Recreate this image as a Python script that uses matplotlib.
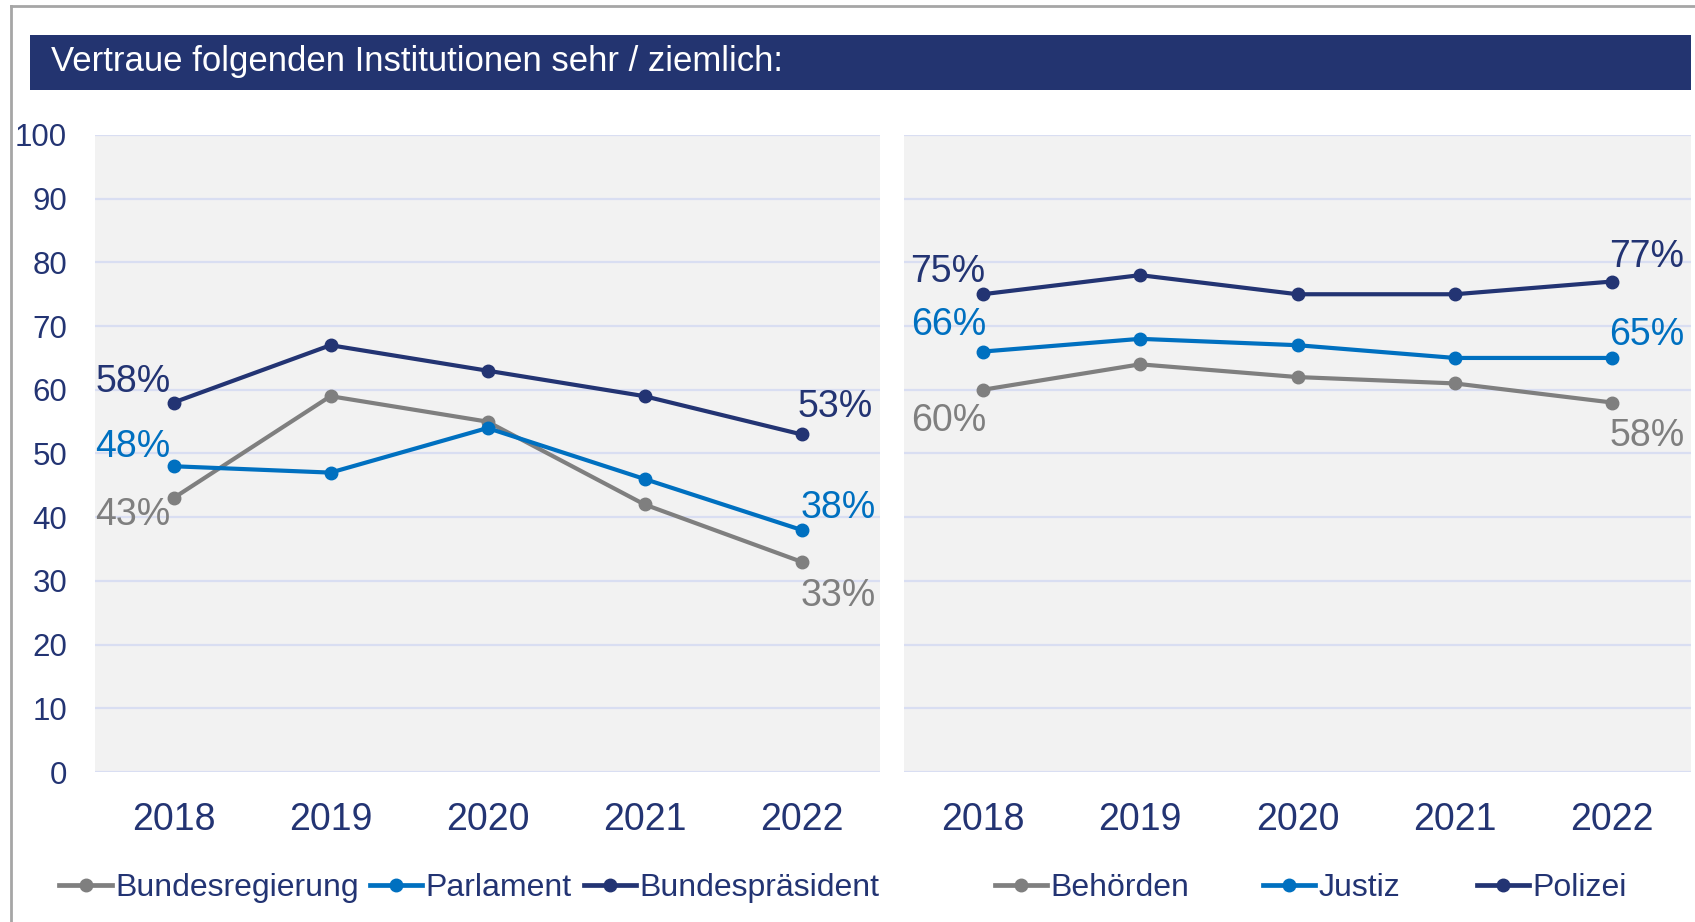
import matplotlib
import matplotlib.pyplot as plt
from matplotlib.lines import Line2D
from matplotlib.patches import Rectangle

matplotlib.set_loglevel('error')

# data
years = ['2018', '2019', '2020', '2021', '2022']

left_names = ['Bundesregierung', 'Parlament', 'Bundespräsident']
bundesregierung = [43, 59, 55, 42, 33]
parlament = [48, 47, 54, 46, 38]
bundespraesident = [58, 67, 63, 59, 53]

right_names = ['Behörden', 'Justiz', 'Polizei']
behoerden = [60, 64, 62, 61, 58]
justiz = [66, 68, 67, 65, 65]
polizei = [75, 78, 75, 75, 77]

yticks = [0, 10, 20, 30, 40, 50, 60, 70, 80, 90, 100]
title = 'Vertraue folgenden Institutionen sehr / ziemlich:'

# style
GRAY = '#7F7F7F'
BLUE = '#0070C0'
NAVY = '#233473'
colors = [GRAY, BLUE, NAVY]
plt.rcParams['font.family'] = ['Liberation Sans', 'DejaVu Sans']

W, H = 1695, 922
fig = plt.figure(figsize=(W / 100, H / 100), dpi=100)
PX = 0.72  # points per pixel at dpi 100

# outer frame (top + left edge)
fig.add_artist(Line2D([11 / W, 11 / W], [0, 1 - 6 / H], color='#A6A6A6', lw=2))
fig.add_artist(Line2D([11 / W, 1], [1 - 6 / H, 1 - 6 / H], color='#A6A6A6', lw=2))

# title bar
fig.add_artist(Rectangle((30 / W, 1 - 90 / H), 1661 / W, 55 / H,
                         transform=fig.transFigure, color='#233470', lw=0))
fig.text(51 / W, 1 - 62 / H, title, color='white', fontsize=25,
         va='center', ha='left')

ax_l = fig.add_axes([95 / W, 1 - 772 / H, 785 / W, 637 / H])
ax_r = fig.add_axes([904 / W, 1 - 772 / H, 787 / W, 637 / H])

# label offsets in pixels (first point, last point) per series
offs_l = [((-3, -17), (-1, -34)), ((-3, 19), (-1, 22)), ((-3, 21), (-4, 27))]
offs_r = [((4, -31), (-3, -33)), ((4, 27), (-3, 23)), ((3, 22), (-3, 25))]

def draw_panel(ax, series, offs, show_y):
    x = list(range(len(years)))
    ax.set_facecolor('#F2F2F2')
    for s, c, (o1, o2) in zip(series, colors, offs):
        ax.plot(x, s, color=c, lw=3, marker='o', ms=9, zorder=3,
                solid_capstyle='round')
        ax.annotate(f'{s[0]}%', (x[0], s[0]), xytext=(o1[0] * PX, o1[1] * PX),
                    textcoords='offset points', ha='right', va='center',
                    color=c, fontsize=27)
        ax.annotate(f'{s[-1]}%', (x[-1], s[-1]), xytext=(o2[0] * PX, o2[1] * PX),
                    textcoords='offset points', ha='left', va='center',
                    color=c, fontsize=27)
    ax.set_xlim(-0.5, len(years) - 0.5)
    ax.set_ylim(0, 100)
    ax.set_xticks(x)
    ax.set_xticklabels(years)
    ax.set_yticks(yticks)
    ax.yaxis.grid(True, color='#D9DEF2', lw=1.6, zorder=0)
    ax.set_axisbelow(True)
    for sp in ax.spines.values():
        sp.set_visible(False)
    ax.tick_params(axis='x', length=0, pad=21.5, labelsize=27, labelcolor=NAVY)
    ax.tick_params(axis='y', length=0, pad=20, labelsize=22.5, labelcolor=NAVY)
    if not show_y:
        ax.tick_params(axis='y', labelleft=False)
    for t in ax.texts:
        t.set_clip_on(False)

draw_panel(ax_l, [bundesregierung, parlament, bundespraesident], offs_l, True)
draw_panel(ax_r, [behoerden, justiz, polizei], offs_r, False)

# legends, one entry each
leg_x = [55, 342, 540, 920, 1168, 1366]
names = left_names + right_names
for i, (name, lx) in enumerate(zip(names, leg_x)):
    h = Line2D([], [], color=colors[i % 3], lw=3.4, marker='o', ms=9)
    lg = fig.legend([h], [name], loc='center left',
                    bbox_to_anchor=(lx * 1.081 / W, 1 - 888 / H),
                    frameon=False, handlelength=1.65, handletextpad=0.1,
                    borderaxespad=0, borderpad=0,
                    prop={'size': 23})
    for t in lg.get_texts():
        t.set_color(NAVY)

fig.savefig('out.png', dpi=100)
